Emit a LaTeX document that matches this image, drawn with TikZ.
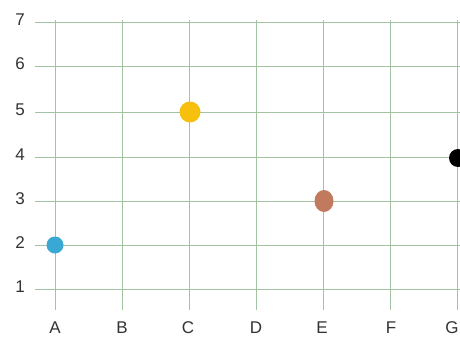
\documentclass[tikz,border=0pt]{standalone}
\usepackage{fontspec}
\setmainfont{Liberation Sans}
\usetikzlibrary{shapes.geometric}
\begin{document}
\begin{tikzpicture}[x=1pt,y=-1pt,
  gridline/.style={draw=gridgreen,line width=1pt},
  lab/.style={font=\fontsize{17}{17}\selectfont,text=labgray,inner sep=0pt},
  dot/.style={circle,inner sep=0pt,draw=none}]
\definecolor{gridgreen}{HTML}{A3C4A3}
\definecolor{labgray}{HTML}{333333}
\definecolor{dotyellow}{HTML}{F8C00E}
\definecolor{dotblue}{HTML}{3AA8D4}
\definecolor{dotbrown}{HTML}{C27A5E}
\useasboundingbox (0,0) rectangle (460,343);
\fill[white] (0,0) rectangle (460,343);
% horizontal grid lines
\foreach \n/\yy in {7/22,6/66,5/112,4/157,3/201,2/245,1/289}{
  \coordinate (h\n) at (35,\yy);
  \coordinate (he\n) at (465,\yy);
  \draw[gridline] (h\n) -- (he\n);
  \node[lab] (y\n) at (20,\yy-2) {\n};
}
% vertical grid lines
\foreach \c/\xx/\lx in {A/55/55,B/122/122,C/189/188,D/256/256,E/323/322,F/390/391,G/457/452}{
  \coordinate (vt\c) at (\xx,20);
  \coordinate (vb\c) at (\xx,310);
  \draw[gridline] (vt\c) -- (vb\c);
  \node[lab] (x\c) at (\lx,328) {\c};
}
% points
\node[dot,fill=dotyellow,minimum size=21pt] (pC5) at (190,112) {};
\node[dot,fill=dotblue,minimum size=17pt] (pA2) at (55,245) {};
\node[ellipse,inner sep=0pt,draw=none,fill=dotbrown,minimum width=19pt,minimum height=22pt] (pE3) at (324,201) {};
\node[dot,fill=black,minimum size=18pt] (pG4) at (458,158) {};
\end{tikzpicture}
\end{document}
